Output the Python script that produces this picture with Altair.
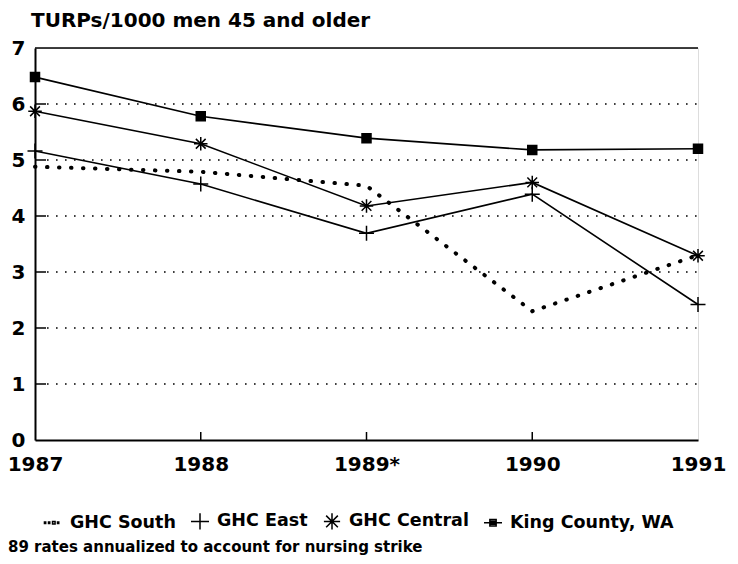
import altair as alt
import pandas as pd

# ---- data ----
years = [1987, 1988, 1989, 1990, 1991]
ghc_south = [4.88, 4.79, 4.54, 2.30, 3.30]
ghc_east = [5.16, 4.57, 3.69, 4.39, 2.42]
ghc_central = [5.87, 5.29, 4.18, 4.60, 3.29]
king_county = [6.48, 5.78, 5.39, 5.18, 5.20]

series_names = ["GHC South", "GHC East", "GHC Central", "King County, WA"]
x_tick_values = [1987, 1988, 1989, 1990, 1991]
y_tick_values = [0, 1, 2, 3, 4, 5, 6, 7]
inner_x_ticks = [1988, 1989, 1990]
inner_y_ticks = [1, 2, 3, 4, 5, 6]
top_border = [7]
title_text = "TURPs/1000 men 45 and older"
footnote_text = "89 rates annualized to account for nursing strike"

rows = []
for name, vals in zip(series_names, [ghc_south, ghc_east, ghc_central, king_county]):
    for yr, v in zip(years, vals):
        rows.append({"year": yr, "rate": v, "series": name})
df = pd.DataFrame(rows)

FONT = "DejaVu Sans"
W, H = 663, 392

x_scale = alt.Scale(domain=[1987, 1991], nice=False, zero=False)
y_scale = alt.Scale(domain=[0, 7], nice=False)

x_axis = alt.Axis(
    values=x_tick_values, format="d",
    labelExpr="datum.value == 1989 ? '1989*' : datum.label",
    title=None, grid=False, ticks=False, labelPadding=14,
    labelFont=FONT, labelFontSize=20, labelFontWeight="bold", labelColor="black",
    domainColor="black", domainWidth=2, labelFlush=False, labelOverlap=False,
)
y_axis = alt.Axis(
    values=y_tick_values, title=None, grid=False, ticks=False, labelPadding=10,
    labelFont=FONT, labelFontSize=20, labelFontWeight="bold", labelColor="black",
    domainColor="black", domainWidth=2, labelFlush=False, labelOverlap=False,
)

x_enc = alt.X("year:Q", scale=x_scale, axis=x_axis)
y_enc = alt.Y("rate:Q", scale=y_scale, axis=y_axis)

base = alt.Chart(df)

# dotted horizontal gridlines (1..6), short inward ticks, solid top border
grid_df = pd.DataFrame({"rate": inner_y_ticks})
grid_layer = alt.Chart(grid_df).mark_rule(
    color="black", strokeWidth=1.6, strokeDash=[1.6, 7.4]
).encode(y=y_enc, x=alt.value(12), x2=alt.value(W))
ytick_layer = alt.Chart(grid_df).mark_rule(color="black", strokeWidth=1.5).encode(
    y=y_enc, x=alt.value(0), x2=alt.value(11)
)
top_layer = alt.Chart(pd.DataFrame({"rate": top_border})).mark_rule(
    color="black", strokeWidth=1.6
).encode(y=y_enc, x=alt.value(0), x2=alt.value(W))
xtick_df = pd.DataFrame({"year": inner_x_ticks})
xtick_layer = alt.Chart(xtick_df).mark_rule(color="black", strokeWidth=1.5).encode(
    x=x_enc, y=alt.value(H), y2=alt.value(H - 8)
)

solid_lines = base.transform_filter("datum.series != 'GHC South'").mark_line(
    color="black", strokeWidth=1.6
).encode(x=x_enc, y=y_enc, detail="series:N")

dotted_line = base.transform_filter("datum.series == 'GHC South'").mark_line(
    color="black", strokeWidth=4, strokeDash=[0.5, 11.5], strokeCap="round"
).encode(x=x_enc, y=y_enc)

plus_path = "M-1,0L1,0M0,-1L0,1"
ast_path = "M-0.9,0L0.9,0M0,-0.9L0,0.9M-0.65,-0.65L0.65,0.65M-0.65,0.65L0.65,-0.65"
sq_path = "M-0.6,-0.6L0.6,-0.6L0.6,0.6L-0.6,0.6Z"

markers = base.transform_filter("datum.series != 'GHC South'").mark_point(
    filled=True, color="black", stroke="black", strokeWidth=1.5, opacity=1, size=225
).encode(
    x=x_enc, y=y_enc,
    shape=alt.Shape("series:N", scale=alt.Scale(domain=series_names[1:],
                                                range=[plus_path, ast_path, sq_path]),
                    legend=None),
)

legend_paths = [
    "M-0.95,-0.07L-0.81,-0.07L-0.81,0.07L-0.95,0.07Z"
    "M-0.5,-0.07L-0.36,-0.07L-0.36,0.07L-0.5,0.07Z"
    "M-0.05,-0.14L0.23,-0.14L0.23,0.14L-0.05,0.14Z"
    "M0.5,-0.07L0.64,-0.07L0.64,0.07L0.5,0.07Z",
    "M-1,0L1,0M0,-0.9L0,0.9",
    ast_path,
    "M-1,0L1,0M-0.35,-0.35L0.35,-0.35L0.35,0.35L-0.35,0.35Z"
    "M-0.35,-0.17L0.35,-0.17M-0.35,0.17L0.35,0.17",
]

legend_layer = base.transform_filter("false").mark_point(
    filled=False, color="black", strokeWidth=1.5, opacity=1
).encode(
    shape=alt.Shape(
        "series:N",
        scale=alt.Scale(domain=series_names, range=legend_paths),
        legend=alt.Legend(
            orient="none", legendX=8, legendY=463, direction="horizontal", title=None,
            labelFont=FONT, labelFontSize=17.5, labelFontWeight="bold", labelColor="black",
            labelLimit=400, symbolSize=324, symbolStrokeWidth=1.5,
            symbolStrokeColor="black", symbolOpacity=1, labelOffset=7, columnPadding=12,
        ),
    )
)

foot_df = pd.DataFrame({"t": [footnote_text]})
footnote = alt.Chart(foot_df).mark_text(
    align="left", baseline="alphabetic", font=FONT, fontSize=15, fontWeight="bold", color="black"
).encode(text="t:N", x=alt.value(-27), y=alt.value(504))

chart = alt.layer(
    grid_layer, ytick_layer, top_layer, xtick_layer, dotted_line, solid_lines, markers,
    legend_layer, footnote
).resolve_scale(shape="independent").properties(
    width=W, height=H,
    padding={"left": 27, "top": 40, "right": 32, "bottom": 116},
    autosize=alt.AutoSizeParams(type="none"),
    title=alt.TitleParams(
        text=title_text, anchor="start", frame="group", font=FONT, fontSize=20,
        fontWeight="bold", color="black", dx=-4, offset=7,
    ),
).configure_view(stroke="black", strokeWidth=1.5).configure(background="white")

chart.save("out.html", embed_options={"renderer": "svg", "actions": False})
